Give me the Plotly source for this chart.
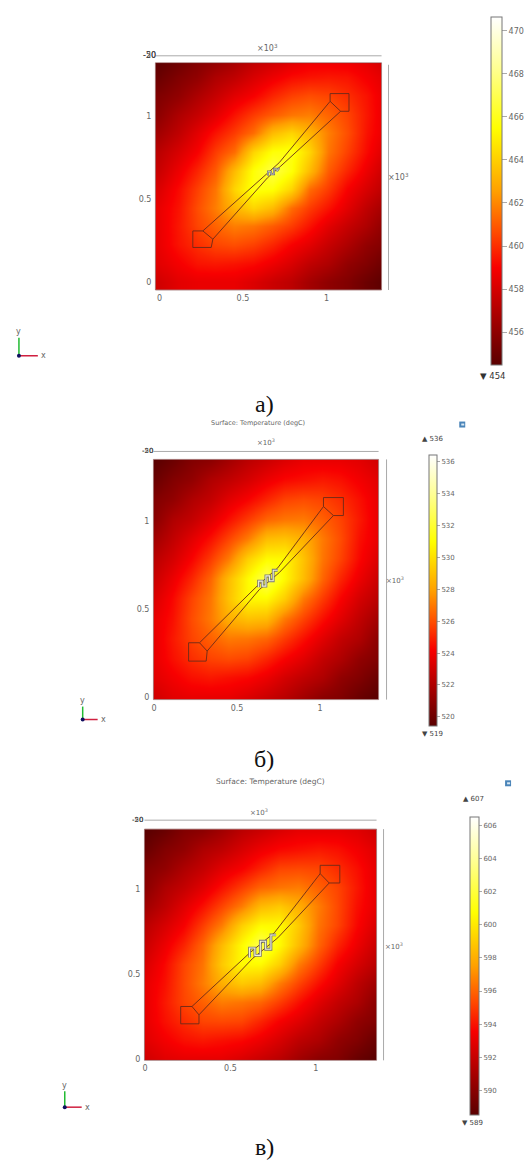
import plotly.graph_objects as go

W, H = 526, 1162

# --- data ---
grid_x = [0, 0.1125, 0.225, 0.3375, 0.45, 0.5625, 0.675, 0.7875, 0.9, 1.0125, 1.125, 1.2375, 1.35]
grid_y = [0, 0.1125, 0.225, 0.3375, 0.45, 0.5625, 0.675, 0.7875, 0.9, 1.0125, 1.125, 1.2375, 1.35]

temp_a = [
 [457.9,458.4,458.6,458.6,458.6,458.2,457.7,457.3,456.6,456.0,455.6,455.0,454.5],
 [458.4,458.9,459.4,459.5,459.4,459.2,458.7,458.1,457.4,456.9,456.1,455.6,455.0],
 [458.6,459.4,460.0,460.5,460.7,460.4,459.8,459.0,458.4,457.6,456.9,456.1,455.6],
 [458.6,459.5,460.5,461.2,461.8,461.6,461.0,460.3,459.4,458.4,457.6,456.9,456.0],
 [458.6,459.4,460.7,461.8,463.2,464.2,463.4,461.4,460.3,459.4,458.4,457.4,456.6],
 [458.2,459.2,460.4,461.6,464.2,465.8,465.6,464.2,461.4,460.3,459.0,458.1,457.3],
 [457.7,458.7,459.8,461.0,463.4,465.6,466.8,465.6,463.4,461.0,459.8,458.7,457.7],
 [457.3,458.1,459.0,460.3,461.4,464.2,465.6,465.8,464.2,461.6,460.4,459.2,458.2],
 [456.6,457.4,458.4,459.4,460.3,461.4,463.4,464.2,463.2,461.8,460.7,459.4,458.6],
 [456.0,456.9,457.6,458.4,459.4,460.3,461.0,461.6,461.8,461.2,460.5,459.5,458.6],
 [455.6,456.1,456.9,457.6,458.4,459.0,459.8,460.4,460.7,460.5,460.0,459.4,458.6],
 [455.0,455.6,456.1,456.9,457.4,458.1,458.7,459.2,459.4,459.5,459.4,458.9,458.4],
 [454.5,455.0,455.6,456.0,456.6,457.3,457.7,458.2,458.6,458.6,458.6,458.4,457.9],
]
temp_b = [
 [523.0,523.5,523.7,523.7,523.7,523.3,522.8,522.3,521.6,520.9,520.6,519.9,519.4],
 [523.5,524.0,524.5,524.7,524.5,524.3,523.8,523.1,522.5,522.0,521.1,520.6,519.9],
 [523.7,524.5,525.2,525.7,525.9,525.7,525.0,524.2,523.5,522.6,522.0,521.1,520.6],
 [523.7,524.7,525.7,526.4,527.0,526.9,526.5,525.5,524.5,523.5,522.6,522.0,520.9],
 [523.7,524.5,525.9,527.0,528.4,529.0,528.8,527.0,525.7,524.5,523.5,522.5,521.6],
 [523.3,524.3,525.7,526.9,529.0,530.8,530.8,529.4,527.0,525.5,524.2,523.1,522.3],
 [522.8,523.8,525.0,526.5,528.8,530.8,532.7,530.8,528.8,526.5,525.0,523.8,522.8],
 [522.3,523.1,524.2,525.5,527.0,529.4,530.8,530.8,529.0,526.9,525.7,524.3,523.3],
 [521.6,522.5,523.5,524.5,525.7,527.0,528.8,529.0,528.4,527.0,525.9,524.5,523.7],
 [520.9,522.0,522.6,523.5,524.5,525.5,526.5,526.9,527.0,526.4,525.7,524.7,523.7],
 [520.6,521.1,522.0,522.6,523.5,524.2,525.0,525.7,525.9,525.7,525.2,524.5,523.7],
 [519.9,520.6,521.1,522.0,522.5,523.1,523.8,524.3,524.5,524.7,524.5,524.0,523.5],
 [519.4,519.9,520.6,520.9,521.6,522.3,522.8,523.3,523.7,523.7,523.7,523.5,523.0],
]
temp_c = [
 [592.3,592.8,593.0,593.0,593.0,592.6,592.1,591.6,590.8,590.1,589.8,589.0,588.5],
 [592.8,593.4,593.9,594.1,593.9,593.7,593.2,592.5,591.7,591.2,590.3,589.8,589.0],
 [593.0,593.9,594.6,595.2,595.3,595.2,594.4,593.5,592.8,591.9,591.2,590.3,589.8],
 [593.0,594.1,595.2,595.9,596.6,596.4,596.0,595.0,593.9,592.8,591.9,591.2,590.1],
 [593.0,593.9,595.3,596.6,598.0,598.9,598.4,596.6,595.2,593.9,592.8,591.7,590.8],
 [592.6,593.7,595.2,596.4,598.9,600.6,600.6,599.1,596.6,595.0,593.5,592.5,591.6],
 [592.1,593.2,594.4,596.0,598.4,600.6,602.5,600.6,598.4,596.0,594.4,593.2,592.1],
 [591.6,592.5,593.5,595.0,596.6,599.1,600.6,600.6,598.9,596.4,595.2,593.7,592.6],
 [590.8,591.7,592.8,593.9,595.2,596.6,598.4,598.9,598.0,596.6,595.3,593.9,593.0],
 [590.1,591.2,591.9,592.8,593.9,595.0,596.0,596.4,596.6,595.9,595.2,594.1,593.0],
 [589.8,590.3,591.2,591.9,592.8,593.5,594.4,595.2,595.3,595.2,594.6,593.9,593.0],
 [589.0,589.8,590.3,591.2,591.7,592.5,593.2,593.7,593.9,594.1,593.9,593.4,592.8],
 [588.5,589.0,589.8,590.1,590.8,591.6,592.1,592.6,593.0,593.0,593.0,592.8,592.3],
]

ticks_a = [456, 458, 460, 462, 464, 466, 468, 470]
ticks_b = [520, 522, 524, 526, 528, 530, 532, 534, 536]
ticks_c = [590, 592, 594, 596, 598, 600, 602, 604, 606]
axis_ticks = [0, 0.5, 1]
axis_labels = ["0", "0.5", "1"]

# probe outline per panel (geometry, units of 10^3)
pad1_a = ([.20,.26,.32,.31,.20,.20], [.309,.309,.259,.209,.209,.309])
pad2_a = ([1.022,1.135,1.135,1.085,1.022,1.022], [1.139,1.139,1.032,1.032,1.092,1.139])
up_a = ([.26,.638,.717,1.022], [.309,.651,.721,1.092])
lo_a = ([.32,.648,.727,1.085], [.259,.631,.701,1.032])
mea_a = ([.650,.650,.668,.668,.686,.686,.704,.704,.718], [.643,.668,.668,.652,.652,.684,.684,.670,.690])

pad1_b = ([.208,.274,.32,.314,.208,.208], [.311,.311,.264,.207,.207,.311])
pad2_b = ([1.021,1.141,1.141,1.081,1.021,1.021], [1.134,1.134,1.032,1.032,1.083,1.134])
up_b = ([.274,.625,.745,1.021], [.311,.636,.735,1.083])
lo_b = ([.32,.634,.754,1.081], [.264,.612,.708,1.032])
mea_b = ([.630,.630,.652,.652,.674,.674,.696,.696,.718,.718,.745], [.625,.660,.660,.632,.632,.690,.690,.662,.662,.722,.722])

pad1_c = ([.209,.275,.316,.316,.209,.209], [.311,.311,.262,.209,.209,.311])
pad2_c = ([1.025,1.14,1.14,1.078,1.025,1.025], [1.142,1.142,1.038,1.038,1.093,1.142])
up_c = ([.275,.611,.757,1.025], [.311,.625,.745,1.093])
lo_c = ([.316,.631,.777,1.078], [.262,.595,.715,1.038])
mea_c = ([.612,.612,.643,.643,.675,.675,.706,.706,.737,.737,.767], [.600,.655,.655,.612,.612,.695,.695,.648,.648,.732,.732])

colors = [[0, "#5a0000"], [0.14, "#a80000"], [0.28, "#f80000"], [0.38, "#ff4a00"], [0.5, "#ffa000"],
          [0.68, "#ffff00"], [0.85, "#ffff90"], [1, "#ffffff"]]

SANS = "DejaVu Sans"
GREY = "#666666"

def px(x): return x / W
def py(y): return 1 - y / H

fig = go.Figure()
shapes, notes = [], []

def text(x, y, s, size=8, color=GREY, family=SANS, anchor="center"):
    notes.append(dict(x=px(x), y=py(y), xref="paper", yref="paper", text=s, showarrow=False,
                      font=dict(size=size, color=color, family=family), xanchor=anchor, yanchor="middle"))

def line(x0, y0, x1, y1, color="#aaaaaa", width=1):
    shapes.append(dict(type="line", xref="paper", yref="paper", x0=px(x0), y0=py(y0), x1=px(x1), y1=py(y1),
                       line=dict(color=color, width=width)))

def panel(n, box, xrng, yrng, z, ticks, zr, bar, geo):
    l, t, r, b = box
    xa, ya = ("x" if n == 1 else f"x{n}"), ("y" if n == 1 else f"y{n}")
    fig.add_trace(go.Heatmap(x=grid_x, y=grid_y, z=z, xaxis=xa, yaxis=ya, zsmooth="best", zmin=zr[0], zmax=zr[1],
                             colorscale=colors, hoverinfo="skip",
                             colorbar=dict(x=px(bar[0]), xref="paper", xanchor="left", xpad=0, ypad=0,
                                           y=py(bar[1]), yref="paper", yanchor="top", len=bar[2] - bar[1], lenmode="pixels",
                                           thickness=bar[3], thicknessmode="pixels", outlinecolor="#777777", outlinewidth=1,
                                           tickvals=ticks, ticks="outside", ticklen=bar[4], tickcolor="#aaaaaa",
                                           tickfont=dict(size=bar[5], color=GREY, family=SANS))))
    pad1, pad2, up, lo, mea = geo
    for g in (pad1, pad2, up, lo):
        fig.add_trace(go.Scatter(x=g[0], y=g[1], xaxis=xa, yaxis=ya, mode="lines", showlegend=False, hoverinfo="skip",
                                 line=dict(color="#6a2a1a", width=0.9)))
    fig.add_trace(go.Scatter(x=mea[0], y=mea[1], xaxis=xa, yaxis=ya, mode="lines", showlegend=False, hoverinfo="skip",
                             line=dict(color="#777777", width=2.8 if n > 1 else 2)))
    fig.add_trace(go.Scatter(x=mea[0], y=mea[1], xaxis=xa, yaxis=ya, mode="lines", showlegend=False, hoverinfo="skip",
                             line=dict(color="#f0f0d8", width=1.1 if n > 1 else 0.5)))
    tf = dict(size=8, color=GREY, family=SANS)
    fig.layout[f"xaxis{'' if n == 1 else n}"] = dict(domain=[px(l), px(r)], range=xrng, anchor=ya, tickvals=axis_ticks,
        ticktext=axis_labels, tickfont=tf, showgrid=False, zeroline=False, ticks="", showline=False, ticklabelstandoff=2)
    fig.layout[f"yaxis{'' if n == 1 else n}"] = dict(domain=[py(b), py(t)], range=yrng, anchor=xa, tickvals=axis_ticks,
        ticktext=axis_labels, tickfont=tf, showgrid=False, zeroline=False, ticks="", showline=False, ticklabelstandoff=3)
    shapes.append(dict(type="rect", xref="paper", yref="paper", x0=px(l), x1=px(r), y0=py(b), y1=py(t),
                       line=dict(color="#7a3a3a", width=0.6)))

def triad(x, y, ytip, xtip):
    line(x, y, x, ytip, "#22bb33", 1.5)
    line(x, y, xtip, y, "#d02040", 1.5)
    shapes.append(dict(type="circle", xref="paper", yref="paper", x0=px(x - 2), x1=px(x + 2), y0=py(y + 2), y1=py(y - 2),
                       fillcolor="#101060", line=dict(width=0)))
    text(x, ytip - 6, "y", 8)
    text(xtip + 6, y, "x", 8)

def icon(x, y):
    shapes.append(dict(type="rect", xref="paper", yref="paper", x0=px(x - 3), x1=px(x + 3), y0=py(y + 3), y1=py(y - 3),
                       fillcolor="#4a84b8", line=dict(width=0)))
    shapes.append(dict(type="rect", xref="paper", yref="paper", x0=px(x - 1), x1=px(x + 2), y0=py(y + 1), y1=py(y - 1),
                       fillcolor="#d8e8f4", line=dict(width=0)))

# panel a
panel(1, (154, 63, 381, 291), [-0.024, 1.33], [-0.048, 1.325], temp_a, ticks_a, (454.47, 470.65),
      (491, 17, 365, 11, 5, 8), (pad1_a, pad2_a, up_a, lo_a, mea_a))
line(154, 56, 381, 56); line(388, 65, 388, 291)
text(267, 48, "×10<sup>3</sup>"); text(398, 178, "×10<sup>3</sup>")
text(148, 56, "-50", 8, "#444444"); text(148, 56, "-20", 8, "#444444")
text(492, 377, "▼ 454", 8.5, "#333333")
triad(17, 357, 339, 36)
text(263, 405, "а)", 24, "#111111", "Liberation Serif")

# panel b
panel(2, (152, 461, 378, 702), [-0.004, 1.353], [-0.011, 1.35], temp_b, ticks_b, (519.4, 536.4),
      (429, 457, 728, 8, 3, 7), (pad1_b, pad2_b, up_b, lo_b, mea_b))
line(152, 453, 378, 453); line(386, 461, 386, 702)
text(257, 424, "Surface: Temperature (degC)", 6.5)
text(265, 444, "×10<sup>3</sup>", 7); text(395, 582, "×10<sup>3</sup>", 7)
text(146, 453, "-50", 7, "#444444"); text(146, 453, "-20", 7, "#444444")
text(433, 441, "▲ 536", 7, "#444444"); text(432, 737, "▼ 519", 7, "#444444")
icon(462, 426)
triad(81, 722, 709, 96)
text(263, 762, "б)", 24, "#111111", "Liberation Serif")

# panel c
panel(3, (143, 832, 376, 1064), [-0.003, 1.355], [-0.006, 1.355], temp_c, ticks_c, (588.5, 606.5),
      (470, 820, 1118, 9, 3, 7), (pad1_c, pad2_c, up_c, lo_c, mea_c))
line(143, 823, 376, 823); line(383, 832, 383, 1064)
text(270, 784, "Surface: Temperature (degC)", 7.5)
text(258, 815, "×10<sup>3</sup>", 7); text(393, 949, "×10<sup>3</sup>", 7)
text(136, 823, "-50", 7, "#444444"); text(136, 823, "-20", 7, "#444444")
text(473, 802, "▲ 607", 7, "#444444"); text(472, 1127, "▼ 589", 7, "#444444")
icon(508, 786)
triad(63, 1111, 1095, 80)
text(263, 1151, "в)", 24, "#111111", "Liberation Serif")

fig.update_layout(width=W, height=H, margin=dict(l=0, r=0, t=0, b=0), paper_bgcolor="white", plot_bgcolor="white",
                  showlegend=False, shapes=shapes, annotations=notes)
fig.write_html("out.html", config=dict(displayModeBar=False),
               post_script="document.body.style.margin='0';document.body.style.overflow='hidden';")
